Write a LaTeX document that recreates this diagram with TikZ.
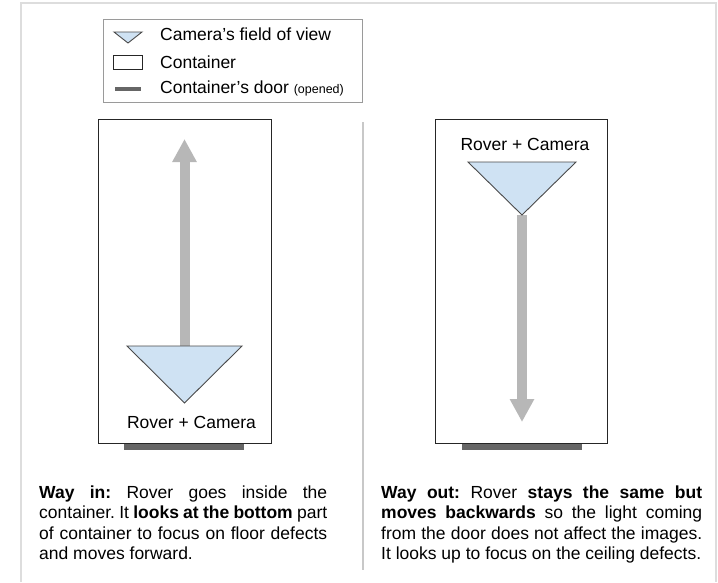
\documentclass[tikz,border=0pt]{standalone}
\usepackage{fontspec}
\setmainfont{Liberation Sans}
\usetikzlibrary{arrows.meta}
\frenchspacing
\definecolor{fovblue}{HTML}{CFE2F3}
\definecolor{fovline}{HTML}{4A4A4A}
\definecolor{arrowgray}{HTML}{B7B7B7}
\definecolor{doorgray}{HTML}{666666}
\definecolor{framegray}{HTML}{DDDDDD}
\definecolor{divgray}{HTML}{C8C8C8}
\definecolor{legendgray}{HTML}{9A9A9A}
\tikzset{
  fov/.style={draw=fovline, fill=fovblue, line width=0.9pt, line join=miter},
  container/.style={draw=black!85, line width=0.9pt, inner sep=0pt},
  door/.style={fill=doorgray, draw=none},
  movearrow/.style={draw=arrowgray, line width=10pt, -{Triangle[width=23pt,length=23pt]}},
  txt/.style={font=\fontsize{17.5}{20.4}\selectfont, inner sep=0pt},
}
\begin{document}
\begin{tikzpicture}[x=1pt,y=-1pt]
\useasboundingbox (0,0) rectangle (718,582);
% outer frame
\draw[framegray, line width=2pt] (21,582) -- (21,3) -- (716,3) -- (716,582);
% divider
\coordinate (divtop) at (363,122);
\coordinate (divbot) at (363,570);
\draw[divgray, line width=1.2pt] (divtop) -- (divbot);

% legend
\node[draw=legendgray, line width=0.9pt, minimum width=259pt, minimum height=83pt, inner sep=0pt] (legend) at (232.5,60.5) {};
\draw[fov] (114,32) -- (142,32) -- (128,43) -- cycle;
\draw[container] (113,55) rectangle (142,69);
\fill[doorgray] (115,87) rectangle (141,91);
\node[txt, anchor=base west] (lg1) at (160,40) {Camera’s field of view};
\node[txt, anchor=base west] (lg2) at (160,68) {Container};
\node[txt, anchor=base west] (lg3) at (160,93) {Container’s door {\fontsize{12.5}{14}\selectfont (opened)}};

% left container
\node[container, minimum width=173pt, minimum height=324pt] (contL) at (184.5,281) {};
\fill[doorgray] (124,444) rectangle (244,450);
\coordinate (triLa) at (127,346);
\coordinate (triLb) at (242,346);
\coordinate (triLc) at (184.5,403);
\coordinate (arrLs) at (184.5,347);
\coordinate (arrLe) at (184.5,139);
\draw[movearrow] (arrLs) -- (arrLe);
\draw[fov] (triLa) -- (triLb) -- (triLc) -- cycle;
\node[txt, anchor=base] (labL) at (191.5,428) {Rover + Camera};

% right container
\node[container, minimum width=172pt, minimum height=324pt] (contR) at (521,281) {};
\fill[doorgray] (462,444) rectangle (582,450);
\coordinate (triRa) at (468,162);
\coordinate (triRb) at (576,162);
\coordinate (triRc) at (522,215);
\coordinate (arrRe) at (522,422);
\draw[movearrow] (triRc) -- (arrRe);
\draw[fov] (triRa) -- (triRb) -- (triRc) -- cycle;
\node[txt, anchor=base] (labR) at (525,150) {Rover + Camera};

% paragraphs
\node[txt, anchor=base west] (parL) at (39,498) {\parbox[t]{288pt}{\fontsize{17.5}{20.6}\selectfont\frenchspacing\tolerance=10000\hyphenpenalty=10000\emergencystretch=20pt\parindent=0pt
\textbf{Way in:} Rover goes inside the\linebreak container. It \textbf{looks at the bottom} part\linebreak of container to focus on floor defects\linebreak and moves forward.}};
\node[txt, anchor=base west] (parR) at (381,498) {\parbox[t]{321pt}{\fontsize{17.5}{20.6}\selectfont\frenchspacing\tolerance=10000\hyphenpenalty=10000\emergencystretch=20pt\parindent=0pt
\textbf{Way out:} Rover \textbf{stays the same but}\linebreak \textbf{moves backwards} so the light coming\linebreak from the door does not affect the images.\linebreak It looks up to focus on the ceiling defects.}};
\end{tikzpicture}
\end{document}
